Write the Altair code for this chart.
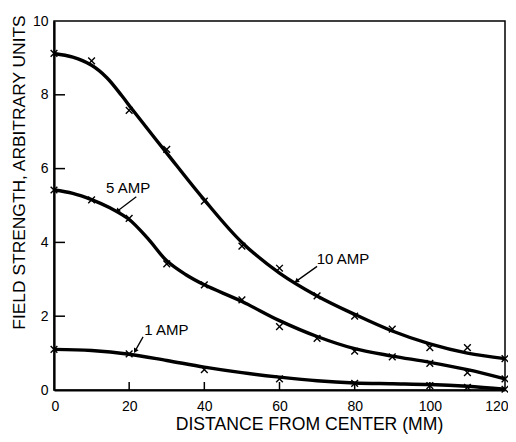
import altair as alt
import pandas as pd

# ---- data ----
curve_x_10 = [0, 5, 10, 14, 18, 21, 30, 40, 50, 60, 70, 80, 90, 100, 110, 120]
curve_y_10 = [9.12, 9.02, 8.8, 8.47, 7.98, 7.58, 6.42, 5.15, 4.0, 3.17, 2.55, 2.05, 1.6, 1.25, 1.0, 0.85]

curve_x_5 = [0, 5, 10, 15, 20, 25, 30, 35, 40, 50, 60, 70, 80, 90, 100, 110, 120]
curve_y_5 = [5.42, 5.33, 5.16, 4.93, 4.62, 4.1, 3.5, 3.13, 2.85, 2.4, 1.88, 1.45, 1.12, 0.92, 0.75, 0.55, 0.3]

curve_x_1 = [0, 10, 20, 30, 40, 50, 60, 70, 80, 90, 100, 110, 120]
curve_y_1 = [1.1, 1.07, 0.97, 0.8, 0.62, 0.47, 0.35, 0.25, 0.19, 0.17, 0.15, 0.1, 0.02]

pts_x_10 = [0, 10, 20, 30, 40, 50, 60, 70, 80, 90, 100, 110, 120]
pts_y_10 = [9.12, 8.92, 7.58, 6.52, 5.12, 3.9, 3.3, 2.55, 2.0, 1.65, 1.15, 1.15, 0.85]

pts_x_5 = [0, 10, 20, 30, 40, 50, 60, 70, 80, 90, 100, 110, 120]
pts_y_5 = [5.42, 5.15, 4.65, 3.42, 2.85, 2.44, 1.72, 1.4, 1.05, 0.9, 0.72, 0.47, 0.3]

pts_x_1 = [0, 20, 40, 60, 80, 100, 110, 120]
pts_y_1 = [1.1, 0.98, 0.55, 0.3, 0.18, 0.12, 0.07, 0.02]

x_ticks = [0, 20, 40, 60, 80, 100, 120]
y_ticks = [0, 2, 4, 6, 8, 10]
x_inner_ticks = [20, 40, 60, 80, 100]
y_inner_ticks = [2, 4, 6, 8]

labels = ["10 AMP", "5 AMP", "1 AMP"]
label_x = [69.9, 19.7, 24.0]
label_y = [3.55, 5.47, 1.63]
label_align = ["left", "center", "left"]
arrow_x = [70.0, 21.9, 23.7]
arrow_y = [3.35, 5.24, 1.44]
arrow_x2 = [64.5, 16.9, 21.6]
arrow_y2 = [2.95, 4.85, 1.06]
arrow_angle = [234, 224, 209]

W, H = 451, 369
FONT = "Liberation Sans"

curves = pd.concat([
    pd.DataFrame({"x": curve_x_10, "y": curve_y_10, "s": "10"}),
    pd.DataFrame({"x": curve_x_5, "y": curve_y_5, "s": "5"}),
    pd.DataFrame({"x": curve_x_1, "y": curve_y_1, "s": "1"}),
])
pts = pd.concat([
    pd.DataFrame({"x": pts_x_10, "y": pts_y_10}),
    pd.DataFrame({"x": pts_x_5, "y": pts_y_5}),
    pd.DataFrame({"x": pts_x_1, "y": pts_y_1}),
])
ann = pd.DataFrame({"label": labels, "x": label_x, "y": label_y, "align": label_align})
arr = pd.DataFrame({"x": arrow_x, "y": arrow_y, "x2": arrow_x2, "y2": arrow_y2, "ang": arrow_angle})
yt = pd.DataFrame({"y": y_inner_ticks})
xt = pd.DataFrame({"x": x_inner_ticks})

xs = alt.Scale(domain=[0, 120], nice=False, zero=False)
ys = alt.Scale(domain=[0, 10], nice=False, zero=False)

xaxis = alt.Axis(
    title="DISTANCE FROM CENTER (MM)", values=x_ticks, ticks=False, tickSize=0,
    grid=False, labelPadding=9, labelFontSize=14, labelFont=FONT, labelColor="black",
    labelFlush=True, labelFlushOffset=3,
    domainColor="black", domainWidth=2.2, titleFont=FONT, titleFontSize=17.6,
    titleFontWeight="normal", titleColor="black", titleX=255, titleY=39,
    titleAlign="center", titleBaseline="alphabetic",
)
yaxis = alt.Axis(
    title="FIELD STRENGTH, ARBITRARY UNITS", values=y_ticks, ticks=False, tickSize=0,
    grid=False, labelPadding=6, labelFontSize=14, labelFont=FONT, labelColor="black",
    domainColor="black", domainWidth=2.2, titleFont=FONT, titleFontSize=17.4,
    titleFontWeight="normal", titleColor="black", titleX=-35, titleY=151,
    titleAngle=270, titleAlign="center", titleBaseline="middle",
)

lines = alt.Chart(curves).mark_line(
    color="black", strokeWidth=3.4, interpolate="catmull-rom"
).encode(
    x=alt.X("x:Q", scale=xs, axis=xaxis),
    y=alt.Y("y:Q", scale=ys, axis=yaxis),
    detail="s:N",
)

xmark = alt.Chart(pts).mark_point(
    shape="M -1 -1 L 1 1 M -1 1 L 1 -1", filled=False, color="black",
    strokeWidth=1.4, size=45, opacity=1,
).encode(x="x:Q", y="y:Q")

ytick = alt.Chart(yt).mark_rule(color="black", strokeWidth=1.5).encode(
    y="y:Q", x=alt.value(0), x2=alt.value(11)
)
xtick = alt.Chart(xt).mark_rule(color="black", strokeWidth=1.5).encode(
    x="x:Q", y=alt.value(H), y2=alt.value(H - 8)
)

arrows = alt.Chart(arr).mark_rule(color="black", strokeWidth=1.3).encode(
    x="x:Q", y="y:Q", x2="x2:Q", y2="y2:Q"
)
heads = alt.Chart(arr).mark_point(
    shape="triangle-up", filled=True, color="black", size=28, opacity=1
).encode(
    x=alt.X("x2:Q"), y=alt.Y("y2:Q"), angle=alt.Angle("ang:Q", scale=None)
)

texts = []
for al in ["left", "center"]:
    texts.append(
        alt.Chart(ann[ann["align"] == al]).mark_text(
            align=al, baseline="middle", font=FONT, fontSize=15, color="black"
        ).encode(x="x:Q", y="y:Q", text="label:N")
    )

chart = alt.layer(lines, xmark, ytick, xtick, arrows, heads, *texts).properties(
    width=W, height=H,
    padding={"left": 46, "top": 13, "right": 3, "bottom": 44},
    autosize=alt.AutoSizeParams(type="none"),
    background="white",
).configure_view(stroke="black", strokeWidth=1.5)

chart.save("out.html", embed_options={"renderer": "svg", "actions": False})
